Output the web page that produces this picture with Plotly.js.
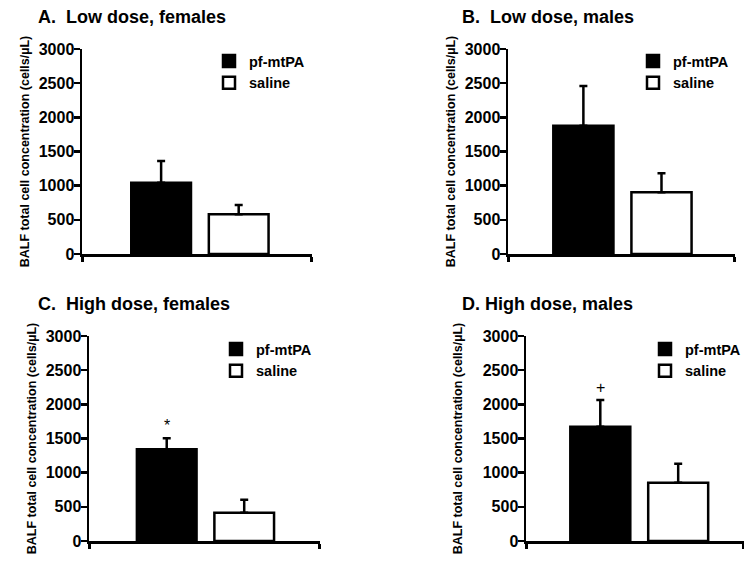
<!DOCTYPE html>
<html>
<head>
<meta charset="utf-8">
<script src="https://cdn.plot.ly/plotly-3.0.1.min.js"></script>
<style>html,body{margin:0;padding:0;background:#fff}#chart{width:744px;height:562px}</style>
</head>
<body>
<div id="chart"></div>
<script>
// ---- data ----
const groups = ["pf-mtPA", "saline"];
const panelTitles = ["A.  Low dose, females", "B.  Low dose, males", "C.  High dose, females", "D. High dose, males"];
const lowFemalesMean = [1043, 581];
const lowFemalesErr  = [318, 136];
const lowMalesMean   = [1878, 903];
const lowMalesErr    = [581, 278];
const highFemalesMean = [1342, 414];
const highFemalesErr  = [161, 190];
const highMalesMean   = [1673, 853];
const highMalesErr    = [390, 278];
const sigMarks = ["", "", "*", "+"];
const yTicks = [0, 500, 1000, 1500, 2000, 2500, 3000];
const yTitle = "BALF total cell concentration (cells/µL)";

const means = [lowFemalesMean, lowMalesMean, highFemalesMean, highMalesMean];
const errs = [lowFemalesErr, lowMalesErr, highFemalesErr, highMalesErr];

const W = 744, H = 562;
const FONT = "Liberation Sans, Arial, Helvetica, sans-serif";
// layout geometry (pixels)
const panels = [
  {x0: 82,  x1: 312, yTop: 49,  yBot: 254, r: [-1.02, 1.945], leg: [209, 45],  title: [36, 17],  so: 7},
  {x0: 508, x1: 735, yTop: 49,  yBot: 254, r: [-0.965, 1.941], leg: [633, 45],  title: [460, 17], so: 7},
  {x0: 89,  x1: 320, yTop: 336, yBot: 541, r: [-1.003, 1.978], leg: [216, 333], title: [36, 304], so: 7},
  {x0: 526, x1: 744, yTop: 336, yBot: 541, r: [-0.954, 1.845], leg: [645, 333], title: [460, 304], so: 18}
];
const fills = ["#000000", "#ffffff"];

const traces = [];
const layout = {
  width: W, height: H,
  margin: {l: 0, r: 0, t: 0, b: 0, autoexpand: false},
  paper_bgcolor: "#fff", plot_bgcolor: "#fff",
  barmode: "overlay",
  font: {family: FONT, color: "#000"},
  annotations: [],
  showlegend: true
};

panels.forEach((p, i) => {
  const sfx = i === 0 ? "" : String(i + 1);
  const xa = "x" + sfx, ya = "y" + sfx;
  const legName = "legend" + sfx;
  groups.forEach((g, j) => {
    traces.push({
      type: "bar",
      name: g,
      x: [j],
      y: [means[i][j]],
      width: 0.77,
      xaxis: xa, yaxis: ya,
      legend: legName,
      marker: {color: fills[j], line: {color: "#000", width: 2.5}},
      error_y: {type: "data", symmetric: false, array: [errs[i][j]], arrayminus: [0],
                color: "#000", thickness: 2.5, width: 4},
      hoverinfo: "skip"
    });
  });
  layout["xaxis" + sfx] = {
    domain: [p.x0 / W, Math.min(p.x1 / W, 1)],
    range: p.r,
    anchor: ya,
    automargin: false,
    showline: true, linecolor: "#000", linewidth: 2.5,
    showgrid: false, zeroline: false,
    tickmode: "array",
    tickvals: [p.r[0] + 0.004, p.r[1] - 0.004],
    ticktext: ["", ""],
    ticks: "outside", ticklen: 5, tickwidth: 2.5, tickcolor: "#000",
    fixedrange: true
  };
  layout["yaxis" + sfx] = {
    domain: [1 - p.yBot / H, 1 - p.yTop / H],
    range: [0, 3000],
    anchor: xa,
    automargin: false,
    showline: true, linecolor: "#000", linewidth: 2.5,
    showgrid: false, zeroline: false,
    tickmode: "array", tickvals: yTicks,
    ticks: "outside", ticklen: 6, tickwidth: 2.5, tickcolor: "#000",
    ticklabelstandoff: -4,
    tickfont: {family: FONT, size: 16, weight: "bold", color: "#000"},
    title: {text: yTitle, font: {family: FONT, size: 12.5, weight: "bold", color: "#000"}, standoff: p.so},
    fixedrange: true
  };
  layout[legName] = {
    x: p.leg[0] / W, y: 1 - p.leg[1] / H, xanchor: "left", yanchor: "top",
    bgcolor: "rgba(0,0,0,0)", borderwidth: 0,
    font: {family: FONT, size: 14.5, weight: "bold", color: "#000"},
    itemwidth: 30, traceorder: "normal"
  };
  layout.annotations.push({
    xref: "paper", yref: "paper", x: p.title[0] / W, y: 1 - p.title[1] / H,
    xanchor: "left", yanchor: "middle", showarrow: false,
    text: panelTitles[i],
    font: {family: FONT, size: 18, weight: "bold", color: "#000"}
  });
  if (sigMarks[i]) {
    layout.annotations.push({
      xref: xa, yref: ya, x: 0, y: means[i][0] + errs[i][0],
      xanchor: "center", yanchor: "bottom", yshift: 2, showarrow: false,
      text: sigMarks[i],
      font: {family: FONT, size: 16, color: "#000"}
    });
  }
});

Plotly.newPlot("chart", traces, layout, {displayModeBar: false, staticPlot: true});
</script>
</body>
</html>
